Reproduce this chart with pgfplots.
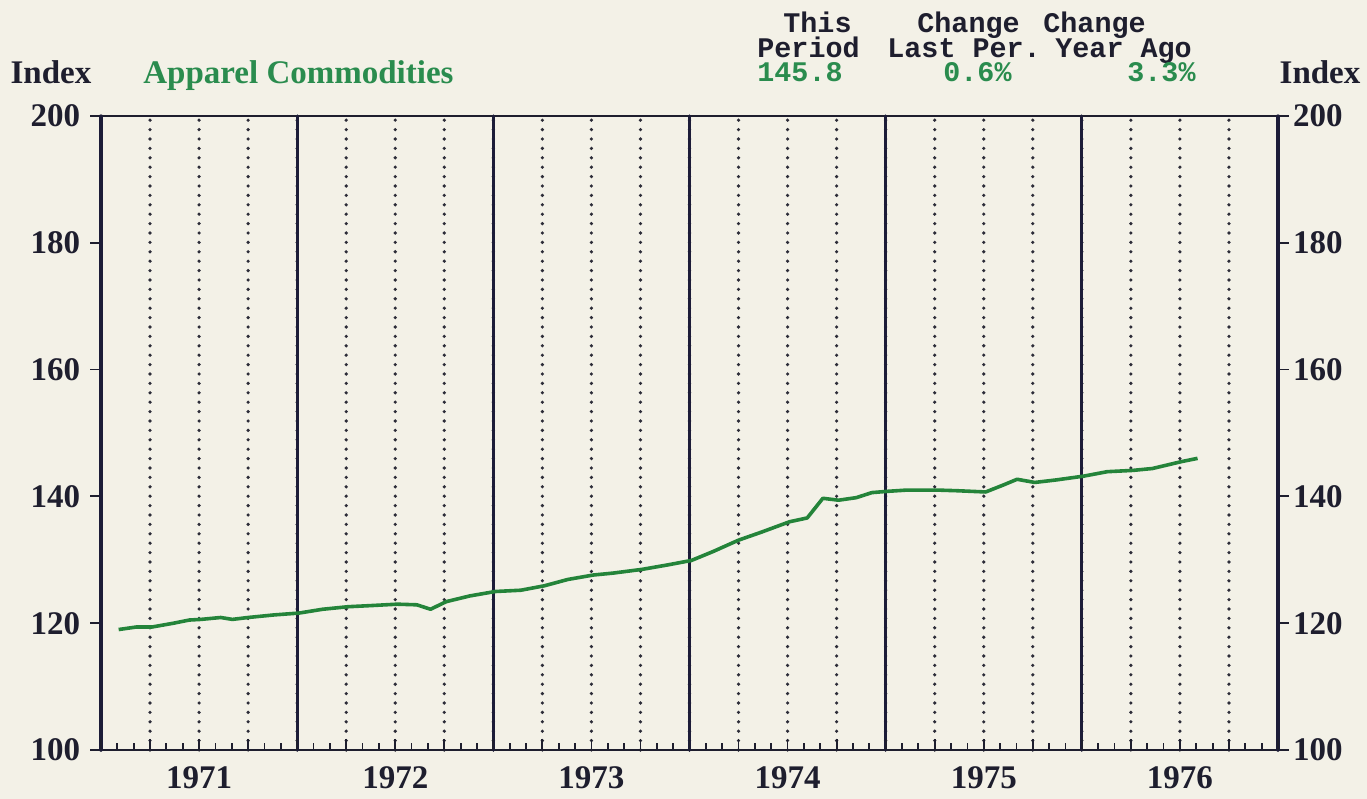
\documentclass[border=0pt]{standalone}
\usepackage{fontspec}
\setmainfont{Liberation Serif}
\newfontfamily\monofont{Liberation Mono}
\usepackage{pgfplots}
\pgfplotsset{compat=1.18}
\definecolor{bgcol}{HTML}{F3F1E7}
\definecolor{framecol}{HTML}{1E1E2E}
\definecolor{dotcol}{HTML}{2C2C38}
\definecolor{yearcol}{HTML}{1C1C38}
\definecolor{txtgreen}{HTML}{2A8C4E}
\definecolor{linegreen}{HTML}{24843A}
\newcommand{\lblfont}{\fontsize{16.5bp}{18bp}\selectfont\bfseries}
\newcommand{\hdrfont}{\monofont\fontsize{14.2bp}{15bp}\selectfont\bfseries}
\begin{document}
\begin{tikzpicture}
\fill[bgcol] (-50.5bp,-24.5bp) rectangle (633bp,375bp);
\path[use as bounding box] (-50.5bp,-24.5bp) rectangle (633bp,375bp);
\begin{axis}[
  at={(0,0)}, anchor=south west,
  scale only axis, width=588.5bp, height=317bp,
  xmin=1971, xmax=1977, ymin=100, ymax=200,
  axis line style={line width=1.1bp, color=framecol},
  xtick={1971,1971.25,...,1977},
  xticklabels={{},{},1971,{},{},{},1972,{},{},{},1973,{},{},{},1974,{},{},{},1975,{},{},{},1976,{},{}},
  minor x tick num=2,
  xtick pos=bottom, xtick align=inside,
  ytick={100,120,...,200}, ytick pos=both, ytick align=outside,
  major tick length=5.5bp, minor tick length=3.5bp,
  tick style={line width=0.9bp, color=framecol},
  xmajorgrids,
  major grid style={line width=1.8bp, dash pattern=on 0bp off 4.7bp, line cap=round, color=dotcol},
  extra x ticks={1971,1972,1973,1974,1975,1976,1977},
  extra x tick labels={},
  extra x tick style={grid=major, major grid style={solid, line width=1.6bp, color=yearcol}},
  xticklabel style={font=\lblfont, color=framecol, anchor=center, yshift=-14bp},
  yticklabel style={font=\lblfont, color=framecol, anchor=east, xshift=-1.5bp},
  /pgf/number format/assume math mode=true,
  clip=false,
]
\addplot[linegreen, line width=1.8bp, line join=round] coordinates {
(1971.09,119.0)
(1971.18,119.4)
(1971.26,119.4)
(1971.37,120.0)
(1971.45,120.5)
(1971.51,120.6)
(1971.61,120.9)
(1971.67,120.6)
(1971.75,120.9)
(1971.88,121.3)
(1972.01,121.6)
(1972.13,122.2)
(1972.26,122.6)
(1972.39,122.8)
(1972.51,123.0)
(1972.61,122.9)
(1972.68,122.2)
(1972.76,123.4)
(1972.88,124.3)
(1973.01,125.0)
(1973.14,125.2)
(1973.26,125.9)
(1973.38,126.9)
(1973.51,127.6)
(1973.61,127.9)
(1973.76,128.5)
(1973.89,129.2)
(1974.01,129.9)
(1974.12,131.3)
(1974.25,133.1)
(1974.37,134.4)
(1974.51,136.0)
(1974.60,136.6)
(1974.68,139.7)
(1974.76,139.4)
(1974.85,139.8)
(1974.93,140.6)
(1975.01,140.8)
(1975.11,141.0)
(1975.26,141.0)
(1975.36,140.9)
(1975.51,140.7)
(1975.60,141.8)
(1975.67,142.7)
(1975.76,142.2)
(1975.87,142.6)
(1976.01,143.2)
(1976.13,143.9)
(1976.26,144.1)
(1976.36,144.4)
(1976.51,145.5)
(1976.59,146.0)
};
\end{axis}
\begin{axis}[
  at={(0,0)}, anchor=south west,
  scale only axis, width=588.5bp, height=317bp,
  xmin=1971, xmax=1977, ymin=100, ymax=200,
  axis x line=none, axis y line*=right,
  axis line style={draw=none},
  ytick={100,120,...,200},
  ytick style={draw=none},
  yticklabel style={font=\lblfont, color=framecol, anchor=west, xshift=4bp},
  /pgf/number format/assume math mode=true,
]
\end{axis}
% titles
\node[font=\lblfont, color=framecol, anchor=base] at (-25bp,333bp) {Index};
\node[font=\lblfont, color=framecol, anchor=base] at (609.5bp,333bp) {Index};
\node[font=\lblfont, color=txtgreen, anchor=base west, inner sep=0pt] at (21bp,333bp) {Apparel Commodities};
% header
\node[font=\hdrfont, color=framecol, anchor=base west, inner sep=0pt] at (341bp,358.5bp) {This};
\node[font=\hdrfont, color=framecol, anchor=base west, inner sep=0pt] at (328bp,346.2bp) {Period};
\node[font=\hdrfont, color=txtgreen, anchor=base west, inner sep=0pt] at (328bp,334bp) {145.8};
\node[font=\hdrfont, color=framecol, anchor=base west, inner sep=0pt] at (408bp,358.5bp) {Change};
\node[font=\hdrfont, color=framecol, anchor=base west, inner sep=0pt] at (393bp,346.2bp) {Last Per.};
\node[font=\hdrfont, color=txtgreen, anchor=base west, inner sep=0pt] at (421bp,334bp) {0.6\%};
\node[font=\hdrfont, color=framecol, anchor=base west, inner sep=0pt] at (471bp,358.5bp) {Change};
\node[font=\hdrfont, color=framecol, anchor=base west, inner sep=0pt] at (477bp,346.2bp) {Year Ago};
\node[font=\hdrfont, color=txtgreen, anchor=base west, inner sep=0pt] at (513bp,334bp) {3.3\%};
\end{tikzpicture}
\end{document}
